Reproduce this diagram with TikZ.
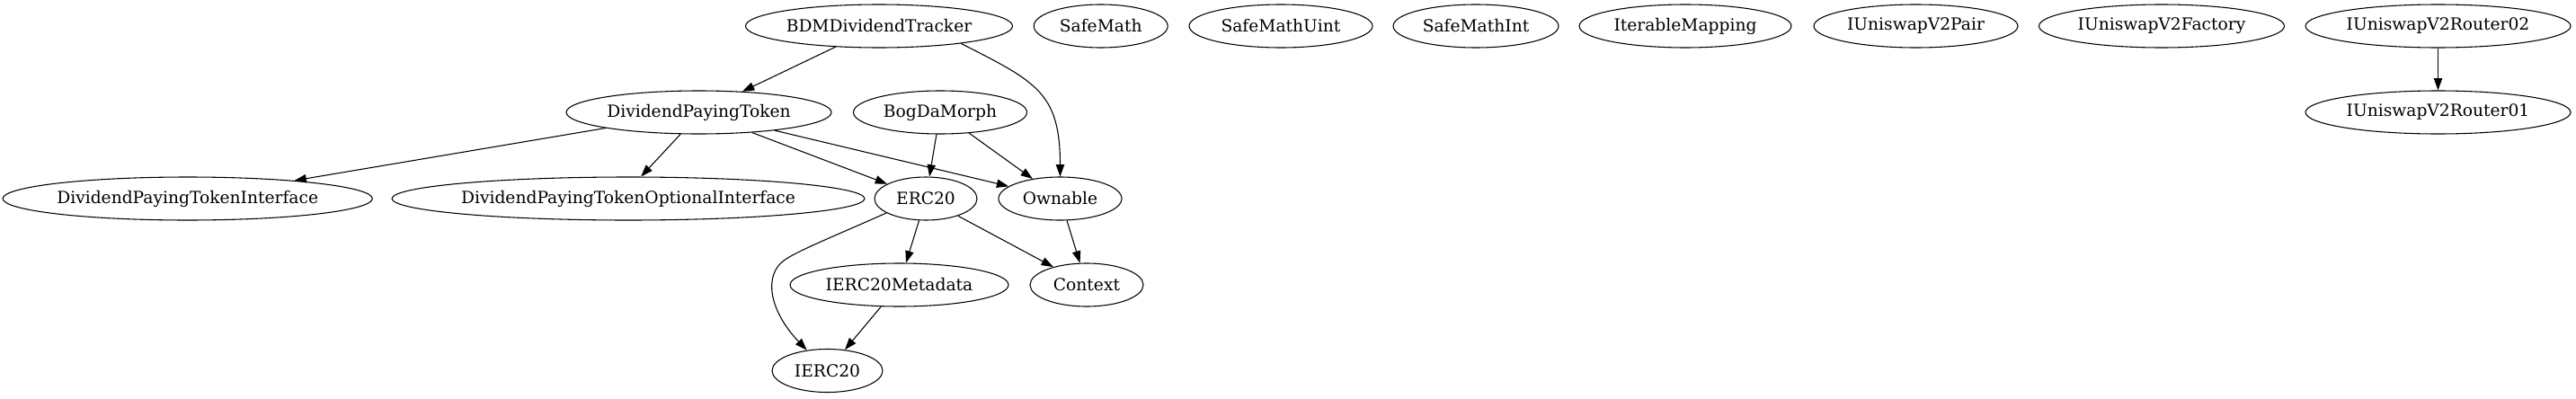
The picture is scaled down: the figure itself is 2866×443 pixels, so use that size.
\documentclass[tikz,border=0pt]{standalone}
\usepackage{fontspec}
\setmainfont{DejaVu Serif}
\usepackage{tikz}
\usetikzlibrary{arrows.meta,shapes.geometric}

\begin{document}
\begin{tikzpicture}[x=0.75pt,y=-0.75pt,
  cls/.style={draw,ellipse,line width=0.8pt,inner sep=0pt,minimum height=36pt,
    font=\fontsize{14pt}{16pt}\selectfont},
  wd/.style={minimum width=0.75*#1pt},
  dep/.style={line width=0.8pt,-{Triangle[length=10pt,width=7pt]}}]
\useasboundingbox (0,0) rectangle (2866,443);

% Contracts, top row
\node[cls,wd=297] (bdm) at (978,29) {BDMDividendTracker};
\node[cls,wd=149] (safemath) at (1224.7,29) {SafeMath};
\node[cls,wd=204] (safeuint) at (1425,29) {SafeMathUint};
\node[cls,wd=184] (safeint) at (1642,29) {SafeMathInt};
\node[cls,wd=236] (itermap) at (1875,29) {IterableMapping};
\node[cls,wd=227] (pair) at (2131.5,29) {IUniswapV2Pair};
\node[cls,wd=273] (factory) at (2405,29) {IUniswapV2Factory};
\node[cls,wd=295] (router2) at (2712.5,29) {IUniswapV2Router02};

% Second row
\node[cls,wd=295] (dpt) at (777.5,125) {DividendPayingToken};
\node[cls,wd=193] (bog) at (1046,125) {BogDaMorph};
\node[cls,wd=295] (router1) at (2712.5,125) {IUniswapV2Router01};

% Third row
\node[cls,wd=409] (dpti) at (208.7,221) {DividendPayingTokenInterface};
\node[cls,wd=500] (dpto) at (699,221) {DividendPayingTokenOptionalInterface};
\node[cls,wd=114] (erc) at (1030,221) {ERC20};
\node[cls,wd=137] (ownable) at (1179.5,221) {Ownable};

% Bottom rows
\node[cls,wd=243] (meta) at (1000.5,317) {IERC20Metadata};
\node[cls,wd=126] (context) at (1209,317) {Context};
\node[cls,wd=123] (ierc) at (920.5,412.5) {IERC20};

% Inheritance edges
\draw[dep] (bdm) -- (dpt);
\draw[dep] (bdm.-12) to[out=-27,in=90,looseness=1.3] (ownable);
\draw[dep] (dpt) -- (dpti);
\draw[dep] (dpt.-130) -- (dpto.60);
\draw[dep] (dpt) -- (erc);
\draw[dep] (dpt) -- (ownable);
\draw[dep] (bog) -- (erc);
\draw[dep] (bog) -- (ownable);
\draw[dep] (erc) -- (meta);
\draw[dep] (erc) -- (context);
\draw[dep] (erc.200) .. controls (930,262) and (885,280) .. (872,290)
  .. controls (850,306) and (855,345) .. (ierc.135);
\draw[dep] (ownable) -- (context);
\draw[dep] (meta) -- (ierc);
\draw[dep] (router2) -- (router1);
\end{tikzpicture}
\end{document}
